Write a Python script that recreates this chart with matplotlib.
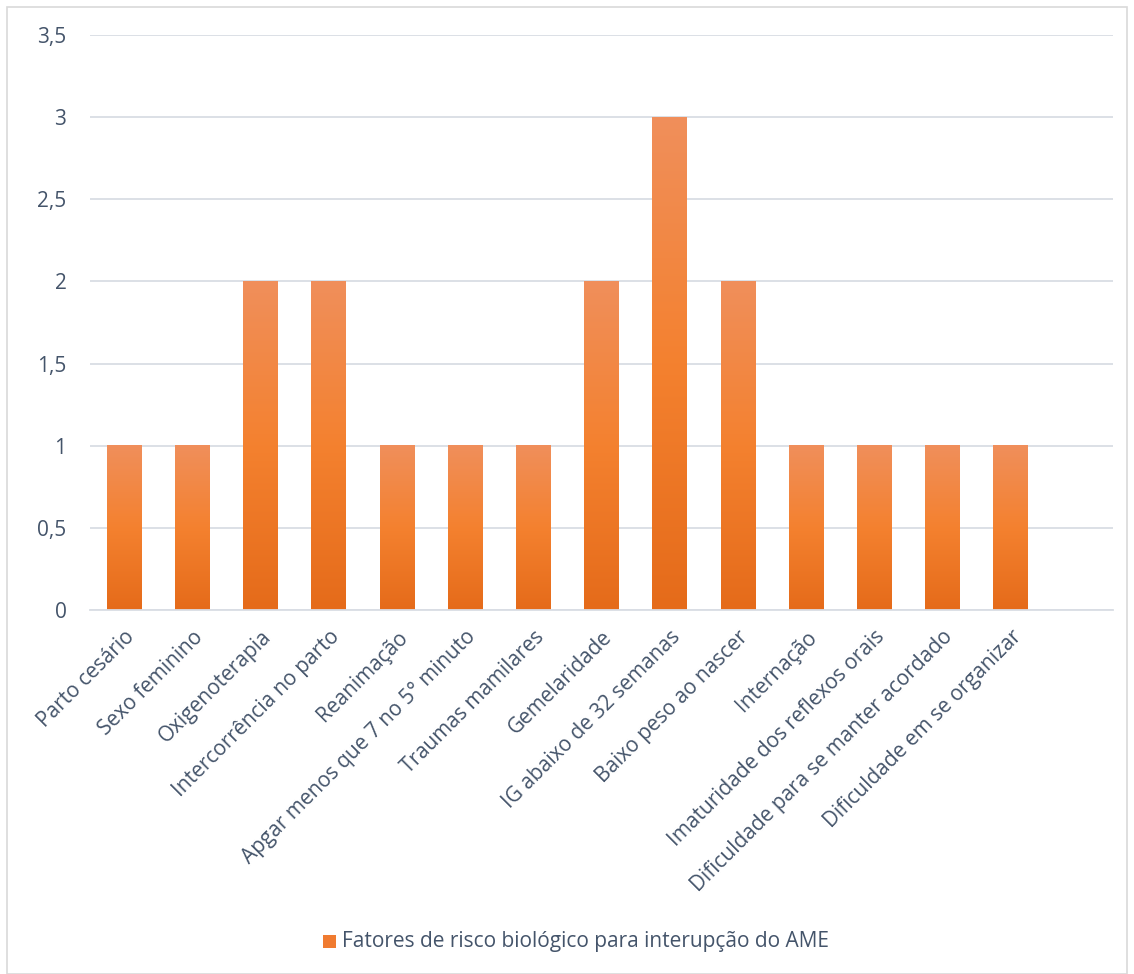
import matplotlib
matplotlib.use("Agg")
import matplotlib.pyplot as plt
import numpy as np
from matplotlib.colors import LinearSegmentedColormap
from matplotlib.patches import Rectangle

categories = ["Parto cesário", "Sexo feminino", "Oxigenoterapia", "Intercorrência no parto",
              "Reanimação", "Apgar menos que 7 no 5° minuto", "Traumas mamilares",
              "Gemelaridade", "IG abaixo de 32 semanas", "Baixo peso ao nascer",
              "Internação", "Imaturidade dos reflexos orais",
              "Dificuldade para se manter acordado", "Dificuldade em se organizar"]
values = [1, 1, 2, 2, 1, 1, 1, 2, 3, 2, 1, 1, 1, 1]
series_name = "Fatores de risco biológico para interupção do AME"
yticks = [0, 0.5, 1, 1.5, 2, 2.5, 3, 3.5]

plt.rcParams['font.family'] = ['Open Sans', 'DejaVu Sans']
text_color = "#44546A"
grid_color = "#D9DDE4"
fs = 15

W, H = 1134, 974
fig = plt.figure(figsize=(W/100, H/100), dpi=100)
# outer chart border
fig.patches.append(Rectangle((7/W, 0), 1 - 14/W, 1 - 7/H, transform=fig.transFigure,
                             fill=False, edgecolor="#D9D9D9", linewidth=1.2))

left, right = 90, 1113
top, bottom = 35, 610
ax = fig.add_axes([left/W, 1 - bottom/H, (right-left)/W, (bottom-top)/H])

nslots = 15
cmap = LinearSegmentedColormap.from_list("og", ["#E56B1A", "#F4812F", "#F08F5B"])
grad = np.linspace(0, 1, 256).reshape(-1, 1)
bw = 0.51
x = np.arange(len(categories))
bars = ax.bar(x, values, width=bw, color="none", zorder=2)
for b in bars:
    bx, by = b.get_x(), b.get_y()
    ax.imshow(grad, cmap=cmap, origin="lower", aspect="auto",
              extent=[bx, bx + b.get_width(), by, by + b.get_height()], zorder=2)
ax.set_xlim(-0.5, nslots - 0.5)
ax.set_ylim(0, 3.5)

ax.set_yticks(yticks)
ax.set_yticklabels([f"{v:g}".replace(".", ",") for v in yticks], fontsize=fs, color=text_color)
ax.yaxis.grid(True, color=grid_color, linewidth=1.3, zorder=0)
ax.set_axisbelow(True)
ax.tick_params(axis="y", length=0, pad=17)
ax.tick_params(axis="x", length=0, pad=12)
ax.set_xticks(x)
ax.set_xticklabels(categories, rotation=45, ha="right", va="top", rotation_mode="anchor",
                   fontsize=fs, color=text_color)
for s in ["left", "right", "top"]:
    ax.spines[s].set_visible(False)
ax.spines["bottom"].set_color(grid_color)
ax.spines["bottom"].set_linewidth(1.3)

# legend
lx, ly = 330, 942
fig.patches.append(Rectangle(((lx - 7)/W, 1 - (ly + 6)/H), 13/W, 13/H, transform=fig.transFigure,
                             facecolor="#F07B30", edgecolor="none"))
fig.text((lx + 12)/W, 1 - ly/H, series_name, fontsize=fs, color=text_color, va="center", ha="left")

fig.savefig("out.png", dpi=100)
